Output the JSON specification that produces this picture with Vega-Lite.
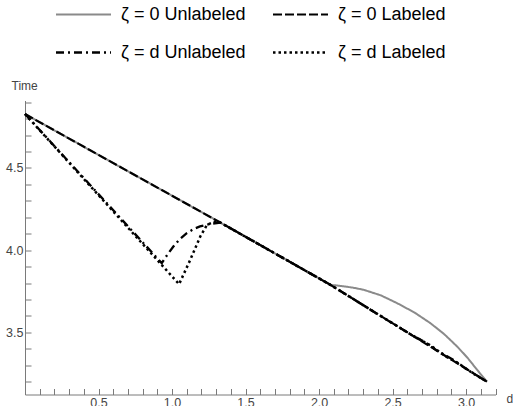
{
  "$schema": "https://vega.github.io/schema/vega-lite/v6.json",
  "autosize": "none",
  "width": 470.5,
  "height": 294,
  "padding": {"left": 25, "top": 100.5, "right": 17.5, "bottom": 11.5},
  "config": {
    "view": {"stroke": null},
    "font": "Liberation Sans",
    "axis": {"grid": false, "domainColor": "#7a7a7a", "tickColor": "#7a7a7a", "labelColor": "#444444", "labelFont": "Liberation Sans", "labelFontSize": 12.5, "titleFont": "Liberation Sans", "titleFontSize": 12, "titleFontWeight": "normal", "titleColor": "#444444", "domainWidth": 1, "tickWidth": 1}
  },
  "data": {"values": [
    {"s": "ζ = 0 Unlabeled", "d": 0, "t": 4.828},
    {"s": "ζ = 0 Unlabeled", "d": 0.5, "t": 4.579},
    {"s": "ζ = 0 Unlabeled", "d": 1.0, "t": 4.331},
    {"s": "ζ = 0 Unlabeled", "d": 1.396, "t": 4.134},
    {"s": "ζ = 0 Unlabeled", "d": 1.7, "t": 3.98},
    {"s": "ζ = 0 Unlabeled", "d": 2.077, "t": 3.789},
    {"s": "ζ = 0 Unlabeled", "d": 2.15, "t": 3.782},
    {"s": "ζ = 0 Unlabeled", "d": 2.23, "t": 3.772},
    {"s": "ζ = 0 Unlabeled", "d": 2.303, "t": 3.759},
    {"s": "ζ = 0 Unlabeled", "d": 2.42, "t": 3.725},
    {"s": "ζ = 0 Unlabeled", "d": 2.53, "t": 3.678},
    {"s": "ζ = 0 Unlabeled", "d": 2.65, "t": 3.62},
    {"s": "ζ = 0 Unlabeled", "d": 2.757, "t": 3.556},
    {"s": "ζ = 0 Unlabeled", "d": 2.85, "t": 3.49},
    {"s": "ζ = 0 Unlabeled", "d": 2.939, "t": 3.414},
    {"s": "ζ = 0 Unlabeled", "d": 3.01, "t": 3.345},
    {"s": "ζ = 0 Unlabeled", "d": 3.075, "t": 3.272},
    {"s": "ζ = 0 Unlabeled", "d": 3.1416, "t": 3.2},

    {"s": "ζ = 0 Labeled", "d": 0, "t": 4.828},
    {"s": "ζ = 0 Labeled", "d": 0.5, "t": 4.579},
    {"s": "ζ = 0 Labeled", "d": 1.0, "t": 4.331},
    {"s": "ζ = 0 Labeled", "d": 1.396, "t": 4.134},
    {"s": "ζ = 0 Labeled", "d": 1.7, "t": 3.98},
    {"s": "ζ = 0 Labeled", "d": 2.077, "t": 3.789},
    {"s": "ζ = 0 Labeled", "d": 2.4, "t": 3.61},
    {"s": "ζ = 0 Labeled", "d": 2.633, "t": 3.482},
    {"s": "ζ = 0 Labeled", "d": 2.9, "t": 3.334},
    {"s": "ζ = 0 Labeled", "d": 3.1416, "t": 3.2},

    {"s": "ζ = d Unlabeled", "d": 0, "t": 4.828},
    {"s": "ζ = d Unlabeled", "d": 0.93, "t": 3.921},
    {"s": "ζ = d Unlabeled", "d": 0.97, "t": 3.975},
    {"s": "ζ = d Unlabeled", "d": 1.009, "t": 4.022},
    {"s": "ζ = d Unlabeled", "d": 1.05, "t": 4.065},
    {"s": "ζ = d Unlabeled", "d": 1.1, "t": 4.103},
    {"s": "ζ = d Unlabeled", "d": 1.15, "t": 4.13},
    {"s": "ζ = d Unlabeled", "d": 1.19, "t": 4.144},
    {"s": "ζ = d Unlabeled", "d": 1.259, "t": 4.16},
    {"s": "ζ = d Unlabeled", "d": 1.33, "t": 4.167},
    {"s": "ζ = d Unlabeled", "d": 1.7, "t": 3.98},
    {"s": "ζ = d Unlabeled", "d": 2.077, "t": 3.789},
    {"s": "ζ = d Unlabeled", "d": 2.4, "t": 3.61},
    {"s": "ζ = d Unlabeled", "d": 2.633, "t": 3.482},
    {"s": "ζ = d Unlabeled", "d": 2.72, "t": 3.441},
    {"s": "ζ = d Unlabeled", "d": 2.8, "t": 3.39},
    {"s": "ζ = d Unlabeled", "d": 2.9, "t": 3.34},
    {"s": "ζ = d Unlabeled", "d": 3.0, "t": 3.279},
    {"s": "ζ = d Unlabeled", "d": 3.1416, "t": 3.2},

    {"s": "ζ = d Labeled", "d": 0, "t": 4.828},
    {"s": "ζ = d Labeled", "d": 1.048, "t": 3.793},
    {"s": "ζ = d Labeled", "d": 1.124, "t": 3.941},
    {"s": "ζ = d Labeled", "d": 1.192, "t": 4.083},
    {"s": "ζ = d Labeled", "d": 1.238, "t": 4.154},
    {"s": "ζ = d Labeled", "d": 1.271, "t": 4.166},
    {"s": "ζ = d Labeled", "d": 1.31, "t": 4.177},
    {"s": "ζ = d Labeled", "d": 1.7, "t": 3.98},
    {"s": "ζ = d Labeled", "d": 2.077, "t": 3.789},
    {"s": "ζ = d Labeled", "d": 2.4, "t": 3.61},
    {"s": "ζ = d Labeled", "d": 2.633, "t": 3.482},
    {"s": "ζ = d Labeled", "d": 2.76, "t": 3.42},
    {"s": "ζ = d Labeled", "d": 2.85, "t": 3.36},
    {"s": "ζ = d Labeled", "d": 2.95, "t": 3.31},
    {"s": "ζ = d Labeled", "d": 3.05, "t": 3.248},
    {"s": "ζ = d Labeled", "d": 3.1416, "t": 3.2}
  ]},
  "mark": {"type": "line", "strokeCap": "butt", "clip": false},
  "encoding": {
    "x": {"field": "d", "type": "quantitative",
      "scale": {"domain": [0, 3.2], "nice": false, "zero": false},
      "axis": {"title": "d", "titleX": 481, "titleY": 4, "titleAlign": "left", "titleBaseline": "middle", "titleAngle": 0,
        "values": [0.1,0.2,0.3,0.4,0.5,0.6,0.7,0.8,0.9,1.0,1.1,1.2,1.3,1.4,1.5,1.6,1.7,1.8,1.9,2.0,2.1,2.2,2.3,2.4,2.5,2.6,2.7,2.8,2.9,3.0,3.1,3.2],
        "labelExpr": "abs(datum.value*2 - round(datum.value*2)) < 0.001 && datum.value < 3.15 ? format(datum.value, '.1f') : ''",
        "tickSize": -6,
        "encode": {"ticks": {"update": {"y2": {"signal": "abs(datum.value*2 - round(datum.value*2)) < 0.001 ? -6 : -4"}}}},
        "labelPadding": 8, "labelFlush": false, "labelOverlap": false}},
    "y": {"field": "t", "type": "quantitative",
      "scale": {"domain": [3.122, 4.91], "nice": false, "zero": false},
      "axis": {"title": "Time", "titleX": -14, "titleY": -11, "titleAlign": "left", "titleBaseline": "alphabetic", "titleAngle": 0,
        "values": [3.2,3.3,3.4,3.5,3.6,3.7,3.8,3.9,4.0,4.1,4.2,4.3,4.4,4.5,4.6,4.7,4.8,4.9],
        "labelExpr": "abs(datum.value*2 - round(datum.value*2)) < 0.001 ? format(datum.value, '.1f') : ''",
        "tickSize": -6,
        "encode": {"ticks": {"update": {"x2": {"signal": "abs(datum.value*2 - round(datum.value*2)) < 0.001 ? 6 : 4"}}}},
        "labelPadding": 8, "labelFlush": false, "labelOverlap": false}},
    "color": {"field": "s", "type": "nominal",
      "scale": {"domain": ["ζ = 0 Unlabeled", "ζ = 0 Labeled", "ζ = d Unlabeled", "ζ = d Labeled"], "range": ["#8a8a8a", "#000000", "#000000", "#000000"]},
      "legend": {"orient": "none", "legendX": 22, "legendY": -95, "columns": 2, "direction": "horizontal",
        "title": null, "symbolType": "M0,0H10", "symbolSize": 121, "symbolStrokeWidth": 2.5,
        "labelFont": "Liberation Sans", "labelFontSize": 18, "labelColor": "#000000", "labelOffset": 56,
        "columnPadding": 18, "rowPadding": 20, "padding": 0, "labelLimit": 300}},
    "strokeDash": {"field": "s", "type": "nominal",
      "scale": {"domain": ["ζ = 0 Unlabeled", "ζ = 0 Labeled", "ζ = d Unlabeled", "ζ = d Labeled"], "range": [[1, 0], [9, 3], [8, 4, 2, 4], [2.5, 3]]}},
    "strokeWidth": {"field": "s", "type": "nominal",
      "scale": {"domain": ["ζ = 0 Unlabeled", "ζ = 0 Labeled", "ζ = d Unlabeled", "ζ = d Labeled"], "range": [2, 2.5, 2.5, 2.5]}}
  }
}
